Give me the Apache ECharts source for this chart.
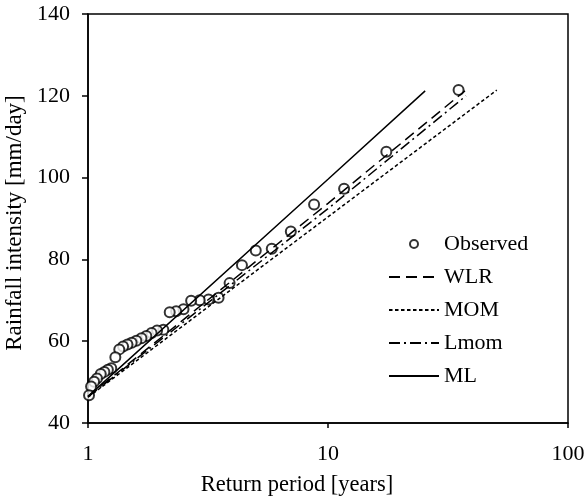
<!DOCTYPE html>
<html>
<head>
<meta charset="utf-8">
<script src="https://cdn.jsdelivr.net/npm/echarts@6/dist/echarts.min.js"></script>
<style>
  html, body { margin: 0; padding: 0; background: #fff; }
  #chart { width: 586px; height: 497px; }
</style>
</head>
<body>
<div id="chart"></div>
<script>
// Observed annual maxima: return period [years] and rainfall intensity [mm/day]
const observedT = [35, 17.5, 11.67, 8.75, 7, 5.83, 5, 4.38, 3.89, 3.5, 3.18, 2.92,
  2.69, 2.5, 2.33, 2.19, 2.06, 1.94, 1.84, 1.75, 1.67, 1.59, 1.52, 1.46, 1.4,
  1.35, 1.3, 1.25, 1.21, 1.17, 1.13, 1.09, 1.06, 1.03, 1.01];
const observedI = [121.4, 106.3, 97.3, 93.4, 86.8, 82.6, 82.2, 78.6, 74.2, 70.6, 70.2, 70.0,
  69.9, 67.8, 67.3, 67.1, 62.8, 62.6, 62.0, 61.3, 60.7, 60.1, 59.6, 59.2, 58.7,
  58.0, 56.1, 53.4, 53.0, 52.5, 52.0, 50.9, 50.1, 48.9, 46.8];

// Fitted curves for each estimation method
const wlrT = [1, 10, 37.2];
const wlrI = [46.5, 93.7, 121.2];
const momT = [1, 10, 50.5];
const momI = [46.3, 90.4, 121.4];
const lmomT = [1, 10, 37.6];
const lmomI = [46.4, 92.4, 120.0];
const mlT = [1, 10, 25.4];
const mlI = [46.5, 99.6, 121.2];

const yTicks = [40, 60, 80, 100, 120, 140];

const pairs = (xs, ys) => xs.map((x, i) => [x, ys[i]]);
const FONT = '"Liberation Serif", "Times New Roman", serif';

const chart = echarts.init(document.getElementById('chart'), null, { renderer: 'canvas' });

function lineSeries(name, xs, ys, dash) {
  return {
    name: name,
    type: 'line',
    data: pairs(xs, ys),
    symbol: 'none',
    showSymbol: false,
    animation: false,
    z: 3,
    itemStyle: { color: '#000', opacity: 0 },
    lineStyle: { color: '#000', width: 1.5, type: dash, opacity: 1 }
  };
}

chart.setOption({
  animation: false,
  backgroundColor: '#fff',
  textStyle: { fontFamily: FONT, color: '#000' },
  grid: {
    left: 88, right: 18, top: 14, bottom: 74,
    containLabel: false,
    outerBoundsMode: 'none',
    show: true, borderColor: '#000', borderWidth: 1.5, backgroundColor: 'transparent'
  },
  legend: {
    orient: 'vertical',
    left: 383,
    top: 228,
    itemWidth: 50,
    itemHeight: 8,
    itemGap: 11,
    textStyle: { fontFamily: FONT, fontSize: 22, color: '#000' },
    data: ['Observed', 'WLR', 'MOM', 'Lmom', 'ML']
  },
  xAxis: {
    type: 'log',
    logBase: 10,
    min: 1,
    max: 100,
    name: 'Return period [years]',
    nameLocation: 'middle',
    nameGap: 51,
    nameTextStyle: { fontFamily: FONT, fontSize: 22.5, color: '#000', padding: [0, 62, 0, 0] },
    axisLine: { lineStyle: { color: '#000', width: 1.5 } },
    axisTick: { show: true, length: 5, lineStyle: { color: '#000', width: 1.5 } },
    minorTick: { show: false },
    splitLine: { show: false },
    axisLabel: { fontFamily: FONT, fontSize: 22, color: '#000', margin: 20 }
  },
  yAxis: {
    type: 'value',
    min: yTicks[0],
    max: yTicks[yTicks.length - 1],
    interval: yTicks[1] - yTicks[0],
    name: 'Rainfall intensity [mm/day]',
    nameLocation: 'middle',
    nameGap: 53,
    nameTextStyle: { fontFamily: FONT, fontSize: 23, color: '#000', padding: [0, 9, 0, 0] },
    axisLine: { show: true, lineStyle: { color: '#000', width: 1.5 } },
    axisTick: { show: true, length: 6, lineStyle: { color: '#000', width: 1.5 } },
    splitLine: { show: false },
    axisLabel: { fontFamily: FONT, fontSize: 22, color: '#000', margin: 18 }
  },
  series: [
    {
      name: 'Observed',
      type: 'scatter',
      data: pairs(observedT, observedI),
      symbol: 'emptyCircle',
      symbolSize: 10,
      z: 2,
      itemStyle: { color: '#000', borderColor: '#000', borderWidth: 1.2 }
    },
    lineSeries('WLR', wlrT, wlrI, [11, 6]),
    lineSeries('MOM', momT, momI, [3.5, 2.5]),
    lineSeries('Lmom', lmomT, lmomI, [11, 4, 2, 4]),
    lineSeries('ML', mlT, mlI, 'solid')
  ]
});
</script>
</body>
</html>
